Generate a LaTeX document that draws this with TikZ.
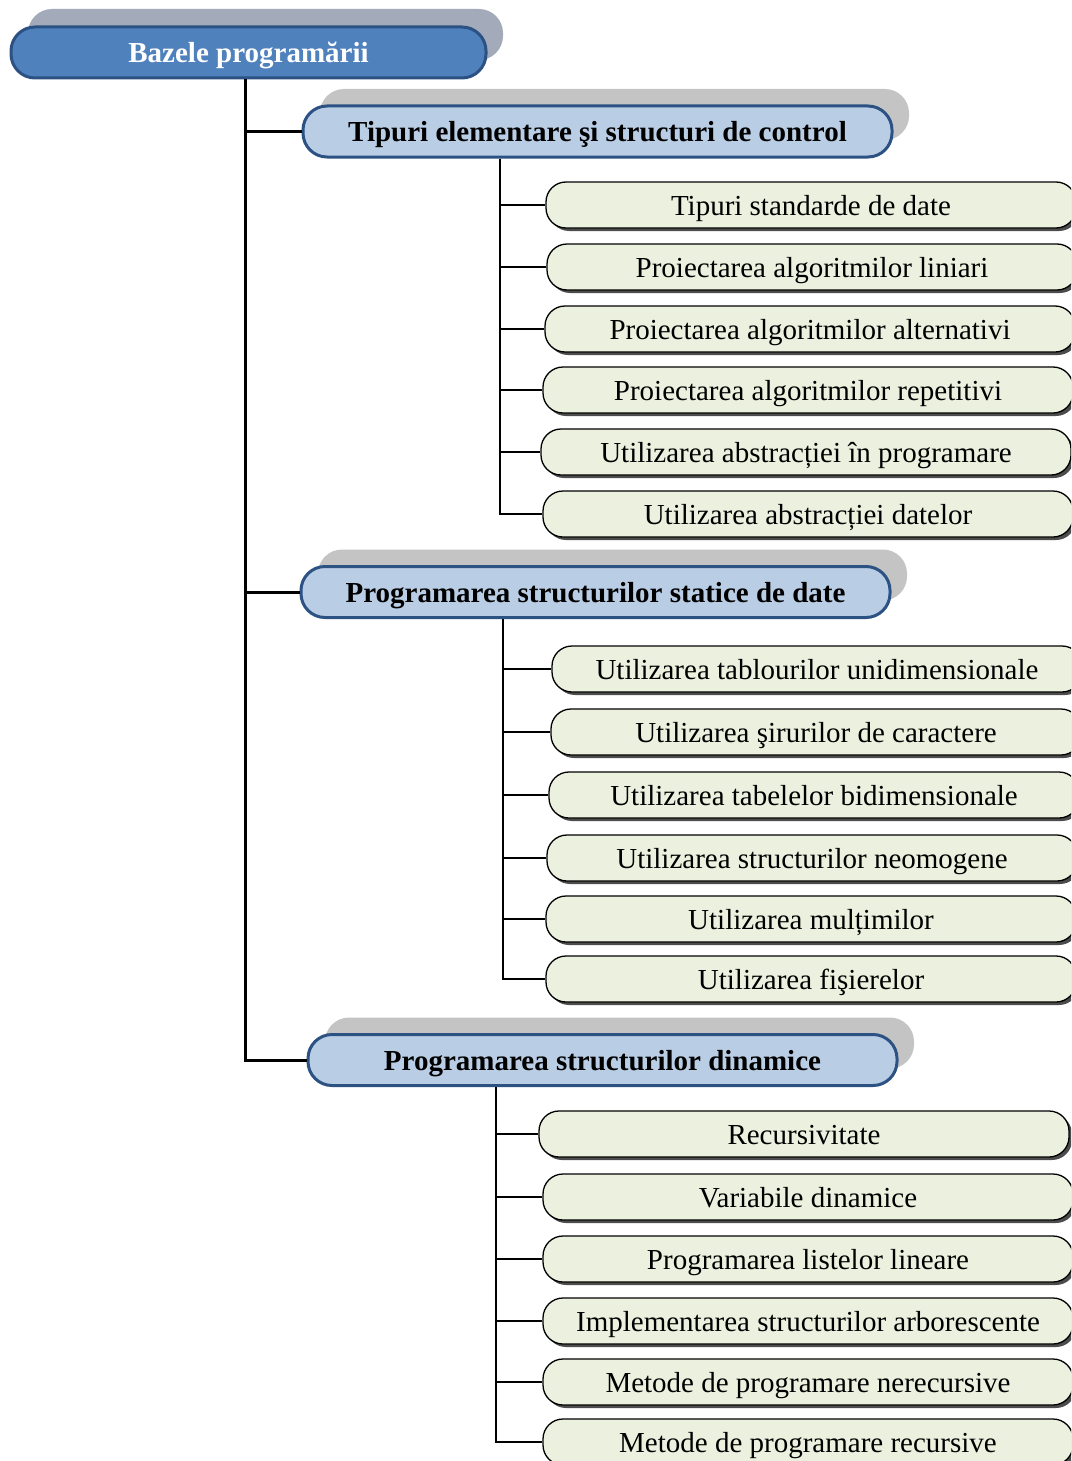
\documentclass[tikz,border=0pt]{standalone}
\usepackage{fontspec}
\setmainfont{Liberation Serif}
\usetikzlibrary{shadows}
\definecolor{rootfill}{HTML}{4F81BD}
\definecolor{boxline}{HTML}{2C5183}
\definecolor{catfill}{HTML}{B9CDE5}
\definecolor{leaffill}{HTML}{EBF1DE}
\definecolor{rootshadow}{HTML}{A3ABBB}
\definecolor{catshadow}{HTML}{C4C4C4}
\tikzset{
  rootbox/.style={draw=boxline, line width=3pt, fill=rootfill, rounded corners=24pt,
    minimum width=475pt, minimum height=51pt, inner sep=0pt, text=white,
    text height=22pt, text depth=2pt,
    font=\fontsize{29}{32}\selectfont\bfseries,
    drop shadow={shadow xshift=17pt, shadow yshift=18pt, fill=rootshadow, opacity=1}},
  catbox/.style={draw=boxline, line width=3pt, fill=catfill, rounded corners=24pt,
    minimum width=589pt, minimum height=51pt, inner sep=0pt, text=black,
    text height=22pt, text depth=2pt,
    font=\fontsize{29}{32}\selectfont\bfseries,
    drop shadow={shadow xshift=17pt, shadow yshift=17pt, fill=catshadow, opacity=1}},
  leafbox/.style={draw=black, line width=1.3pt, fill=leaffill, rounded corners=20pt,
    minimum width=530pt, minimum height=46pt, inner sep=0pt, text=black,
    text height=22pt, text depth=2pt,
    font=\fontsize{29}{32}\selectfont,
    drop shadow={shadow xshift=3pt, shadow yshift=-3pt, fill=black!70, opacity=1}},
  trunk/.style={draw=black, line width=3pt},
  twig/.style={draw=black, line width=1.3pt},
}
\begin{document}
\begin{tikzpicture}[x=1pt, y=-1pt]
\useasboundingbox (0,0) rectangle (1071,1461);
\clip (0,0) rectangle (1071,1461);
% root and categories
\node[rootbox] (root) at (248.5,52.5) {Bazele programării};
\node[catbox] (c1) at (597.5,131.5) {Tipuri elementare şi structuri de control};
\node[catbox] (c2) at (595.5,592) {Programarea structurilor statice de date};
\node[catbox] (c3) at (602.5,1060) {Programarea structurilor dinamice};
% leaves group 1
\node[leafbox] (a1) at (811,205) {Tipuri standarde de date};
\node[leafbox] (a2) at (812,267) {Proiectarea algoritmilor liniari};
\node[leafbox] (a3) at (810,329) {Proiectarea algoritmilor alternativi};
\node[leafbox] (a4) at (808,390) {Proiectarea algoritmilor repetitivi};
\node[leafbox] (a5) at (806,452) {Utilizarea abstracției în programare};
\node[leafbox] (a6) at (808,514) {Utilizarea abstracției datelor};
% leaves group 2
\node[leafbox] (b1) at (817,669) {Utilizarea tablourilor unidimensionale};
\node[leafbox] (b2) at (816,732) {Utilizarea şirurilor de caractere};
\node[leafbox] (b3) at (814,795) {Utilizarea tabelelor bidimensionale};
\node[leafbox] (b4) at (812,858) {Utilizarea structurilor neomogene};
\node[leafbox] (b5) at (811,919) {Utilizarea mulțimilor};
\node[leafbox] (b6) at (811,979) {Utilizarea fişierelor};
% leaves group 3
\node[leafbox] (d1) at (804,1134) {Recursivitate};
\node[leafbox] (d2) at (808,1197) {Variabile dinamice};
\node[leafbox] (d3) at (808,1259) {Programarea listelor lineare};
\node[leafbox] (d4) at (808,1321) {Implementarea structurilor arborescente};
\node[leafbox] (d5) at (808,1382) {Metode de programare nerecursive};
\node[leafbox] (d6) at (808,1442) {Metode de programare recursive};
% trunk connectors
\coordinate (r0) at (root.south -| 245,0);
\draw[trunk] (r0) |- (c1.west);
\draw[trunk] (r0) |- (c2.west);
\draw[trunk] (r0) |- (c3.west);
\coordinate (t1) at (c1.south -| 500,0);
\coordinate (t2) at (c2.south -| 503,0);
\coordinate (t3) at (c3.south -| 496,0);
\foreach \n in {a1,a2,a3,a4,a5,a6} \draw[twig] (t1) |- (\n.west);
\foreach \n in {b1,b2,b3,b4,b5,b6} \draw[twig] (t2) |- (\n.west);
\foreach \n in {d1,d2,d3,d4,d5,d6} \draw[twig] (t3) |- (\n.west);
\end{tikzpicture}
\end{document}
